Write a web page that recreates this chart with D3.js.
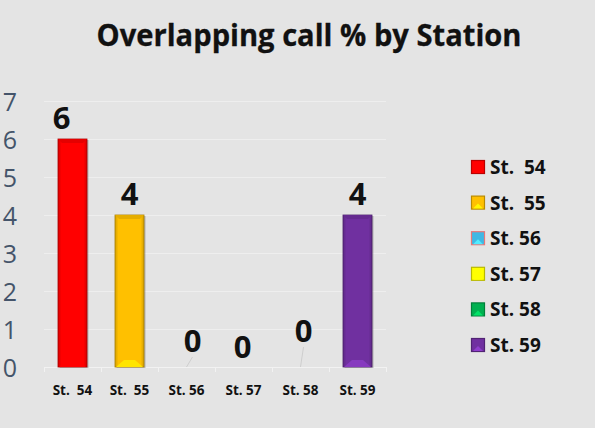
<!DOCTYPE html>
<html><head><meta charset="utf-8">
<script src="https://cdn.jsdelivr.net/npm/d3@7"></script>
<style>
html,body{margin:0;padding:0;background:#e4e4e4;}
svg{display:block;}
</style></head>
<body>
<script>
// ---- data ----
const categories = ["St.  54", "St.  55", "St. 56", "St. 57", "St. 58", "St. 59"];
const values = [6, 4, 0, 0, 0, 4];
const colors = ["#ff0000", "#ffc000", "#3fb8e4", "#ffff00", "#00b050", "#7030a0"];
const yTicks = [0, 1, 2, 3, 4, 5, 6, 7];
const titleText = "Overlapping call % by Station";
// manual label nudges (dx, dy) as in the original layout
const labelNudgeX = [-11, 0, 6, -1, 3, 0];
const labelNudgeY = [0, 0, -5, 1, -15, 0];

const W = 595, H = 428;
const svg = d3.select("body").append("svg").attr("width", W).attr("height", H);
svg.append("rect").attr("width", W).attr("height", H).attr("fill", "#e4e4e4");

const x = d3.scaleBand().domain(categories).range([44, 386]).paddingInner(0).paddingOuter(0);
const y = d3.scaleLinear().domain([0, 7]).range([367, 101]);
const barW = 29;
const FONT = "'Open Sans', sans-serif";

// title
svg.append("text").attr("x", 309).attr("y", 46).attr("text-anchor", "middle")
  .attr("font-family", FONT).attr("font-weight", 700)
  .attr("font-size", 29.5).attr("fill", "#111")
  .attr("textLength", 425).attr("lengthAdjust", "spacingAndGlyphs")
  .attr("stroke", "#111").attr("stroke-width", 0.3)
  .text(titleText);

// gridlines
svg.append("g").selectAll("line").data(yTicks.slice(1)).join("line")
  .attr("x1", 44).attr("x2", 386)
  .attr("y1", d => y(d) + 0.5).attr("y2", d => y(d) + 0.5)
  .attr("stroke", "#eeeeee").attr("stroke-width", 1);

// y axis labels
svg.append("g").selectAll("text").data(yTicks).join("text")
  .attr("x", 17).attr("y", d => y(d)).attr("text-anchor", "end")
  .attr("dominant-baseline", "central")
  .attr("font-family", FONT).attr("font-weight", 400)
  .attr("font-size", 25).attr("fill", "#44546a")
  .text(d => d);

// x axis
const xAxis = svg.append("g").attr("transform", `translate(0,${y(0)})`)
  .call(d3.axisBottom(x).tickSize(0).tickFormat(""));
xAxis.select(".domain").attr("stroke", "#f2f2f2").attr("stroke-width", 1.2);
// band boundary ticks
svg.append("g").selectAll("line").data(categories.concat(["_end"])).join("line")
  .attr("x1", (d, i) => i < categories.length ? x(d) + 0.5 : x.range()[1] + 0.5)
  .attr("x2", (d, i) => i < categories.length ? x(d) + 0.5 : x.range()[1] + 0.5)
  .attr("y1", y(0)).attr("y2", y(0) + 5)
  .attr("stroke", "#f2f2f2");

svg.append("g").selectAll("text").data(categories).join("text")
  .attr("x", d => x(d) + x.bandwidth() / 2).attr("y", 395)
  .attr("text-anchor", "middle")
  .style("white-space", "pre")
  .attr("font-family", FONT).attr("font-weight", 700)
  .attr("font-size", 13.5).attr("fill", "#111")
  .text(d => d);

// gradients
const defs = svg.append("defs");
colors.forEach((c, i) => {
  const g = defs.append("linearGradient").attr("id", "g" + i)
    .attr("x1", "0").attr("x2", "1").attr("y1", "0").attr("y2", "0");
  const dark = d3.color(c).darker(0.5);
  g.append("stop").attr("offset", "0%").attr("stop-color", dark);
  g.append("stop").attr("offset", "12%").attr("stop-color", c);
  g.append("stop").attr("offset", "88%").attr("stop-color", c);
  g.append("stop").attr("offset", "100%").attr("stop-color", dark);
});

// bars
const bars = svg.append("g");
values.forEach((v, i) => {
  if (v <= 0) return;
  const cx = x(categories[i]) + x.bandwidth() / 2;
  const x0 = cx - barW / 2, x1 = cx + barW / 2;
  const yt = y(v), yb = y(0);
  const c = colors[i];
  bars.append("rect").attr("x", x0 + 1.5).attr("y", yt + 1).attr("width", barW).attr("height", yb - yt)
    .attr("fill", "#000").attr("opacity", 0.22);
  bars.append("rect").attr("x", x0).attr("y", yt).attr("width", barW).attr("height", yb - yt)
    .attr("fill", `url(#g${i})`).attr("stroke", d3.color(c).darker(1.2)).attr("stroke-width", 0.8);
  // top bevel
  bars.append("polygon")
    .attr("points", [[x0, yt], [x1, yt], [x1 - 4, yt + 4], [x0 + 4, yt + 4]].map(p => p.join(",")).join(" "))
    .attr("fill", d3.color(c).darker(0.3));
  // bottom highlight
  bars.append("polygon")
    .attr("points", [[x0 + 1, yb], [x0 + 9, yb - 7], [x1 - 9, yb - 7], [x1 - 1, yb]].map(p => p.join(",")).join(" "))
    .attr("fill", d3.color(c).brighter(0.5));
});

// leader lines for nudged zero labels
values.forEach((v, i) => {
  if (Math.abs(labelNudgeY[i]) < 4 || v !== 0) return;
  const cx = x(categories[i]) + x.bandwidth() / 2;
  const yl = y(v) - 10 + labelNudgeY[i] + 1;
  svg.append("line").attr("x1", cx).attr("y1", y(0)).attr("x2", cx + labelNudgeX[i])
    .attr("y2", Math.min(y(0) - 4, yl + 4)).attr("stroke", "#c8c8c8").attr("stroke-width", 0.8);
});

// value labels
svg.append("g").selectAll("text").data(values).join("text")
  .attr("x", (d, i) => x(categories[i]) + x.bandwidth() / 2 + labelNudgeX[i])
  .attr("y", (d, i) => y(d) - 10 + labelNudgeY[i])
  .attr("text-anchor", "middle")
  .attr("font-family", FONT).attr("font-weight", 700)
  .attr("font-size", 31).attr("fill", "#111")
  .text(d => d);

// legend
const leg = svg.append("g");
categories.forEach((c, i) => {
  const cy = 167 + i * 35.6;
  const col = colors[i];
  const border = i === 2 ? "#e87878" : d3.color(col).darker(0.9);
  leg.append("rect").attr("x", 471.5).attr("y", cy - 6.5).attr("width", 13).attr("height", 13)
    .attr("fill", col).attr("stroke", border).attr("stroke-width", 1.2);
  leg.append("polygon")
    .attr("points", [[473, cy + 6], [478, cy + 1], [483, cy + 6]].map(p => p.join(",")).join(" "))
    .attr("fill", d3.color(col).brighter(0.7));
  leg.append("text").attr("x", 490).attr("y", cy).attr("dominant-baseline", "central")
    .style("white-space", "pre")
    .attr("font-family", FONT).attr("font-weight", 700)
    .attr("font-size", 19).attr("fill", "#111")
    .text(c);
});
</script>
</body></html>
